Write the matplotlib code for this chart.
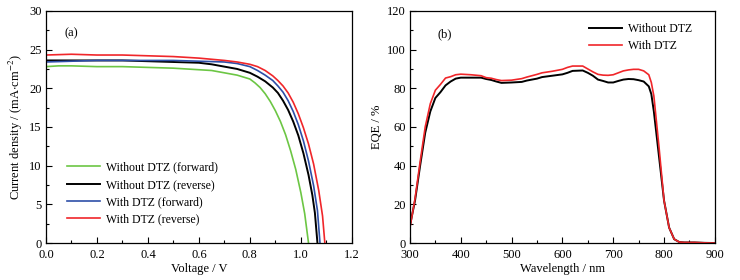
import matplotlib
matplotlib.use("Agg")
import matplotlib.pyplot as plt
from matplotlib.ticker import MultipleLocator

# J-V curves
v_green = [0.0, 0.05, 0.1, 0.2, 0.3, 0.4, 0.5, 0.6, 0.65, 0.7, 0.75, 0.8,
           0.82, 0.84, 0.86, 0.88, 0.9, 0.92, 0.94, 0.96, 0.98, 1.0, 1.015,
           1.03]
j_green = [22.8, 22.9, 22.9, 22.8, 22.8, 22.7, 22.6, 22.4, 22.3, 22.0, 21.7,
           21.2, 20.7, 20.1, 19.3, 18.3, 17.1, 15.7, 14.0, 11.9, 9.5, 6.5,
           3.8, 0.0]

v_black = [0.0, 0.1, 0.2, 0.3, 0.4, 0.5, 0.6, 0.65, 0.7, 0.75, 0.8, 0.83,
           0.86, 0.89, 0.91, 0.93, 0.95, 0.97, 0.99, 1.01, 1.03, 1.045, 1.055,
           1.065]
j_black = [23.6, 23.6, 23.6, 23.6, 23.5, 23.4, 23.3, 23.1, 22.8, 22.5, 22.0,
           21.5, 20.9, 20.1, 19.4, 18.4, 17.2, 15.7, 13.9, 11.6, 8.8, 6.2,
           3.9, 0.0]

v_blue = [0.0, 0.1, 0.2, 0.3, 0.4, 0.5, 0.6, 0.7, 0.75, 0.8, 0.83, 0.86,
          0.89, 0.91, 0.93, 0.95, 0.97, 0.99, 1.01, 1.03, 1.05, 1.065, 1.075]
j_blue = [23.4, 23.5, 23.6, 23.6, 23.6, 23.6, 23.5, 23.4, 23.2, 22.8, 22.3,
          21.7, 21.0, 20.3, 19.5, 18.4, 17.0, 15.3, 13.2, 10.6, 7.4, 4.2, 0.0]

v_red = [0.0, 0.1, 0.2, 0.3, 0.4, 0.5, 0.6, 0.7, 0.75, 0.8, 0.83, 0.86,
         0.89, 0.91, 0.93, 0.95, 0.97, 0.99, 1.01, 1.03, 1.05, 1.07, 1.085,
         1.094]
j_red = [24.3, 24.4, 24.3, 24.3, 24.2, 24.1, 23.9, 23.6, 23.4, 23.1, 22.8,
         22.3, 21.6, 21.0, 20.3, 19.4, 18.2, 16.7, 14.9, 12.8, 10.2, 6.8,
         3.5, 0.0]

# EQE spectra
wl = [300, 310, 320, 330, 340, 350, 360, 370, 380, 390, 400, 420, 440, 450,
      460, 470, 480, 500, 520, 530, 540, 550, 560, 580, 600, 610, 620, 640,
      650, 660, 670, 680, 690, 700, 710, 720, 730, 740, 750, 760, 770, 775,
      780, 790, 800, 810, 820, 830, 840, 860, 880, 900]
eqe_without = [9, 22, 40, 57, 68, 75, 78, 81.5, 83.5, 85, 85.5, 85.5, 85.5,
               84.8, 84.3, 83.5, 82.8, 83, 83.3, 84, 84.5, 85, 85.8, 86.5,
               87.2, 88, 89, 89.2, 88, 86.5, 84.5, 83.8, 83, 83, 83.8, 84.5,
               84.8, 84.7, 84.2, 83.5, 81, 77, 68, 45, 22, 8, 2, 0.5, 0.3,
               0.3, 0.1, 0]
eqe_with = [8, 23, 42, 60, 72, 79, 82, 85.3, 86, 87, 87.3, 87, 86.5, 85.5,
            85.2, 84.5, 84, 84.2, 85, 85.8, 86.5, 87.2, 88, 88.8, 89.8, 90.8,
            91.5, 91.5, 90, 88.5, 87.2, 86.8, 86.7, 87, 88, 89, 89.5, 89.8,
            89.8, 89, 87, 83, 76, 50, 22, 8, 2, 0.5, 0.3, 0.3, 0.1, 0]

plt.rcParams["font.family"] = ["Liberation Serif", "DejaVu Serif"]
plt.rcParams["font.size"] = 9
plt.rcParams["mathtext.fontset"] = "stix"

fig = plt.figure(figsize=(7.4, 2.8), dpi=100)
ax1 = fig.add_axes([0.062, 0.132, 0.4135, 0.829])
ax2 = fig.add_axes([0.554, 0.132, 0.412, 0.829])

lw = 1.2
ax1.plot(v_green, j_green, color="#6cc644", lw=lw, label="Without DTZ (forward)")
ax1.plot(v_black, j_black, color="black", lw=lw + 0.2, label="Without DTZ (reverse)")
ax1.plot(v_blue, j_blue, color="#2e4fa8", lw=lw, label="With DTZ (forward)")
ax1.plot(v_red, j_red, color="#f0262a", lw=lw, label="With DTZ (reverse)")
ax1.set_xlim(0, 1.2)
ax1.set_ylim(0, 30)
ax1.xaxis.set_major_locator(MultipleLocator(0.2))
ax1.xaxis.set_minor_locator(MultipleLocator(0.1))
ax1.yaxis.set_major_locator(MultipleLocator(5))
ax1.yaxis.set_minor_locator(MultipleLocator(2.5))
ax1.set_xlabel("Voltage / V", labelpad=1)
ax1.set_ylabel(r"Current density / (mA$\cdot$cm$^{-2}$)", labelpad=3)
ax1.text(0.06, 0.905, "(a)", transform=ax1.transAxes, fontsize=9,
         va="center")
ax1.legend(loc="lower left", bbox_to_anchor=(0.035, 0.03), frameon=False,
           fontsize=8.5, handlelength=2.8, handletextpad=0.5, labelspacing=0.45)

ax2.plot(wl, eqe_without, color="black", lw=lw + 0.2, label="Without DTZ")
ax2.plot(wl, eqe_with, color="#f0262a", lw=lw, label="With DTZ")
ax2.set_xlim(300, 900)
ax2.set_ylim(0, 120)
ax2.xaxis.set_major_locator(MultipleLocator(100))
ax2.xaxis.set_minor_locator(MultipleLocator(50))
ax2.yaxis.set_major_locator(MultipleLocator(20))
ax2.yaxis.set_minor_locator(MultipleLocator(10))
ax2.set_xlabel("Wavelength / nm", labelpad=1)
ax2.set_ylabel("EQE / %", labelpad=3)
ax2.text(0.09, 0.9, "(b)", transform=ax2.transAxes, fontsize=9, va="center")
ax2.legend(loc="upper right", bbox_to_anchor=(0.96, 0.995), frameon=False,
           fontsize=8.5, handlelength=2.8, handletextpad=0.5, labelspacing=0.45)

for ax in (ax1, ax2):
    ax.tick_params(which="both", direction="in", top=False, right=False)
    ax.tick_params(which="major", length=4, width=0.8, pad=3)
    ax.tick_params(axis="x", which="major", pad=4.5)
    ax.tick_params(which="minor", length=2, width=0.8)
    for s in ax.spines.values():
        s.set_linewidth(0.9)

fig.savefig("out.png", dpi=100)
